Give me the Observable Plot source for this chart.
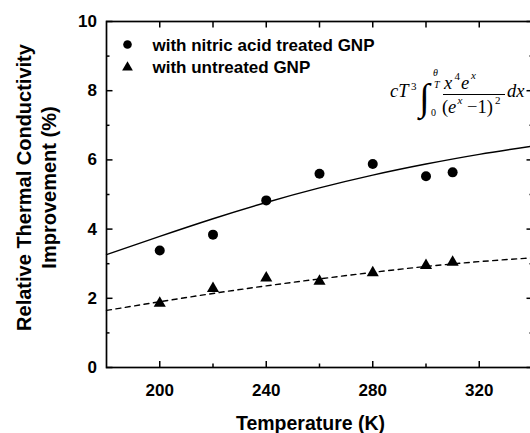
<!DOCTYPE html>
<html>
<head>
<meta charset="utf-8">
<script src="https://cdn.jsdelivr.net/npm/d3@7"></script>
<script src="https://cdn.jsdelivr.net/npm/@observablehq/plot@0.6"></script>
<style>
  html, body { margin: 0; padding: 0; background: #fff; overflow: hidden; }
  #chart svg { display: block; }
</style>
</head>
<body>
<div id="chart"></div>
<script>
// ---- data ----
const temps = [200, 220, 240, 260, 280, 300, 310];
const treated = [3.38, 3.84, 4.83, 5.60, 5.88, 5.53, 5.64];
const untreated = [1.86, 2.28, 2.59, 2.49, 2.74, 2.95, 3.04];

const fitTemps = [180, 200, 220, 240, 260, 280, 300, 320, 340];
const fitTreated = [3.26, 3.79, 4.30, 4.77, 5.19, 5.56, 5.88, 6.16, 6.40];
const fitUntreated = [1.65, 1.90, 2.14, 2.36, 2.56, 2.75, 2.92, 3.06, 3.17];

const xMajor = [200, 240, 280, 320];
const xMinor = [220, 260, 300, 340];
const yMajor = [0, 2, 4, 6, 8, 10];
const yMinor = [1, 3, 5, 7, 9];

const seriesNames = ["with nitric acid treated GNP", "with untreated GNP"];
const xLabel = "Temperature (K)";
const yLabel = "Relative Thermal Conductivity\nImprovement (%)";

// ---- tables built from the arrays ----
const ptsTreated = temps.map((t, i) => ({t, v: treated[i]}));
const ptsUntreated = temps.map((t, i) => ({t, v: untreated[i]}));
const fitA = fitTemps.map((t, i) => ({t, v: fitTreated[i]}));
const fitB = fitTemps.map((t, i) => ({t, v: fitUntreated[i]}));

const SANS = "'Liberation Sans', Arial, Helvetica, sans-serif";
const blank = () => "";
const tickStyle = {strokeWidth: 1.5, label: null};

const plot = Plot.plot({
  width: 530,
  height: 433,
  marginLeft: 106,
  marginRight: -2,
  marginTop: 21,
  marginBottom: 66,
  style: {fontFamily: SANS, background: "#fff", color: "#000", overflow: "visible"},
  x: {domain: [180, 340], axis: null, label: null},
  y: {domain: [0, 10], axis: null, label: null},
  marks: [
    // fitted curves
    Plot.line(fitA, {x: "t", y: "v", stroke: "#000", strokeWidth: 1.4, curve: "natural"}),
    Plot.line(fitB, {x: "t", y: "v", stroke: "#000", strokeWidth: 1.4, strokeDasharray: "5,4.5", curve: "natural"}),
    // data points
    Plot.dot(ptsTreated, {x: "t", y: "v", r: 5, fill: "#000", symbol: "circle"}),
    Plot.dot(ptsUntreated, {x: "t", y: "v", r: 4.5, fill: "#000", symbol: "triangle"}),
    // axes, ticks inward
    Plot.axisX(xMajor, {...tickStyle, anchor: "bottom", tickSize: -6, tickPadding: 22, fontSize: 17, fontWeight: "bold", fill: "#000"}),
    Plot.axisX(xMinor, {...tickStyle, anchor: "bottom", tickSize: -3.5, tickFormat: blank}),
    Plot.axisX(xMajor.concat(xMinor), {...tickStyle, anchor: "top", tickSize: -5.5, tickFormat: blank}),
    Plot.axisY(yMajor, {...tickStyle, anchor: "left", tickSize: -6.5, tickPadding: 16, fontSize: 17, fontWeight: "bold", fill: "#000"}),
    Plot.axisY(yMinor, {...tickStyle, anchor: "left", tickSize: -3.5, tickFormat: blank}),
    Plot.axisY(yMajor, {...tickStyle, anchor: "right", tickSize: -6.5, tickFormat: blank}),
    Plot.axisY(yMinor, {...tickStyle, anchor: "right", tickSize: -3.5, tickFormat: blank}),
    Plot.frame({stroke: "#000", strokeWidth: 1.7}),
    // axis titles
    Plot.text([xLabel], {frameAnchor: "bottom", text: d => d, dx: -9, dy: 62, lineAnchor: "bottom",
      fontSize: 19.5, fontWeight: "bold", fill: "#000"}),
    Plot.text([yLabel], {frameAnchor: "left", text: d => d, rotate: -90, dx: -71.5, dy: -7, lineHeight: 1.25,
      fontSize: 20, fontWeight: "bold", fill: "#000", textAnchor: "middle"}),
    // legend
    Plot.dot([seriesNames[0]], {frameAnchor: "top-left", dx: 21, dy: 23, r: 4.3, fill: "#000", symbol: "circle"}),
    Plot.dot([seriesNames[1]], {frameAnchor: "top-left", dx: 21, dy: 46, r: 4, fill: "#000", symbol: "triangle"}),
    Plot.text([seriesNames[0]], {frameAnchor: "top-left", text: d => d, dx: 46, dy: 29, lineAnchor: "bottom",
      textAnchor: "start", fontSize: 17, fontWeight: "bold", fill: "#000"}),
    Plot.text([seriesNames[1]], {frameAnchor: "top-left", text: d => d, dx: 46, dy: 51, lineAnchor: "bottom",
      textAnchor: "start", fontSize: 17, fontWeight: "bold", fill: "#000"})
  ]
});

document.getElementById("chart").appendChild(plot);

// ---- equation annotation (text), placed relative to the plot frame ----
const sx = plot.scale("x"), sy = plot.scale("y");
const ox = sx.range[0], oy = sy.range[1]; // frame top-left
const eq = d3.select(plot).append("g")
  .attr("font-family", "'Liberation Serif', 'Times New Roman', serif")
  .attr("text-anchor", "start")
  .attr("fill", "#000")
  .attr("transform", `translate(${ox},${oy})`);
function piece(txt, x, y, size, italic) {
  eq.append("text").attr("x", x - 106).attr("y", y - 21)
    .attr("text-anchor", "start")
    .attr("font-size", size).attr("font-style", italic ? "italic" : "normal").text(txt);
}
piece("cT", 390, 97, 18.5, true);
piece("3", 411, 90, 11, false);
piece("\u222B", 419, 110, 38, false);
piece("\u03B8", 433, 76, 10, true);
piece("T", 434, 88, 10, true);
piece("0", 431, 116, 10, false);
piece("x", 444, 89, 18.5, true);
piece("4", 454.5, 80, 11, false);
piece("e", 461, 89, 18.5, true);
piece("x", 471, 79, 11, true);
eq.append("line").attr("x1", 443 - 106).attr("x2", 505 - 106).attr("y1", 94.5 - 21).attr("y2", 94.5 - 21)
  .attr("stroke", "#000").attr("stroke-width", 1);
piece("(", 442, 113, 18.5, false);
piece("e", 448, 113, 18.5, true);
piece("x", 457.5, 104, 11, true);
piece("\u22121)", 467, 113, 18.5, false);
piece("2", 495, 104, 11, false);
piece("dx", 507, 97, 18.5, true);
</script>
</body>
</html>
